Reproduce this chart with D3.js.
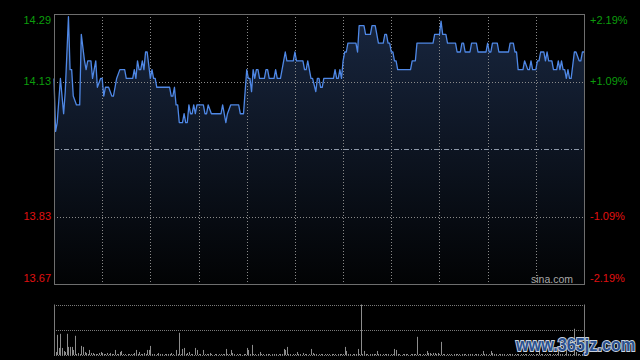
<!DOCTYPE html>
<html>
<head>
<meta charset="utf-8">
<script src="https://cdn.jsdelivr.net/npm/d3@7"></script>
<style>
	html, body { margin: 0; padding: 0; background: #000; }
	svg { display: block; }
	text { font-family: 'Liberation Sans', Arial, sans-serif; }
</style>
</head>
<body>
<div class="chart"></div>
<script>
const WIDTH = 640;
const HEIGHT = 360;
const PREV_CLOSE = 13.98;
const MAX_PCT = 0.0219;
const MINUTES = 330;

// vertices of the minute line: [minute, price]
const priceMinutes = [
	0, 1, 2, 4, 6, 7, 9, 10, 11, 12, 14, 16, 17, 19, 20, 21, 23, 24, 26, 27,
	29, 30, 31, 32, 34, 36, 37, 38, 39, 41, 44, 45, 49, 50, 51, 52, 53, 54, 55, 56,
	57, 58, 60, 61, 62, 63, 64, 72, 73, 74, 75, 76, 77, 78, 80, 81, 82, 83, 84, 85,
	86, 87, 88, 89, 93, 94, 95, 96, 98, 104, 105, 107, 108, 110, 115, 116, 118, 120, 121, 122,
	123, 124, 125, 126, 127, 128, 131, 132, 133, 134, 137, 138, 139, 141, 143, 144, 145, 149, 150, 151,
	155, 156, 157, 158, 160, 161, 163, 164, 165, 166, 167, 168, 174, 175, 176, 177, 178, 179, 180, 181,
	182, 183, 188, 189, 190, 193, 194, 197, 198, 200, 202, 205, 206, 207, 208, 209, 210, 211, 212, 213,
	214, 222, 223, 225, 226, 236, 237, 240, 241, 242, 244, 245, 250, 251, 253, 254, 255, 256, 259, 260,
	263, 264, 269, 270, 271, 272, 273, 276, 277, 283, 284, 286, 287, 288, 289, 292, 293, 295, 296, 297,
	298, 300, 301, 302, 303, 305, 306, 307, 308, 310, 311, 313, 314, 315, 316, 317, 318, 319, 320, 321,
	322, 324, 325, 327, 328, 329, 330
];
const priceValues = [
	14.14, 14.02, 14.04, 14.14, 14.06, 14.11, 14.28, 14.16, 14.16, 14.10, 14.08, 14.08, 14.24, 14.18, 14.16, 14.18, 14.18, 14.14, 14.18, 14.12,
	14.14, 14.14, 14.10, 14.12, 14.12, 14.10, 14.10, 14.12, 14.14, 14.16, 14.16, 14.14, 14.14, 14.16, 14.14, 14.18, 14.16, 14.16, 14.18, 14.16,
	14.20, 14.20, 14.14, 14.16, 14.14, 14.14, 14.12, 14.12, 14.10, 14.10, 14.12, 14.08, 14.08, 14.04, 14.04, 14.06, 14.04, 14.04, 14.08, 14.06,
	14.06, 14.08, 14.06, 14.08, 14.08, 14.06, 14.06, 14.08, 14.06, 14.06, 14.08, 14.04, 14.06, 14.08, 14.08, 14.06, 14.06, 14.16, 14.14, 14.14,
	14.11, 14.16, 14.14, 14.16, 14.16, 14.14, 14.14, 14.16, 14.16, 14.14, 14.14, 14.16, 14.14, 14.14, 14.18, 14.20, 14.18, 14.18, 14.20, 14.18,
	14.18, 14.16, 14.16, 14.18, 14.14, 14.14, 14.11, 14.14, 14.14, 14.12, 14.12, 14.14, 14.14, 14.16, 14.14, 14.14, 14.16, 14.14, 14.18, 14.20,
	14.20, 14.22, 14.22, 14.20, 14.26, 14.26, 14.24, 14.24, 14.26, 14.26, 14.22, 14.22, 14.24, 14.24, 14.22, 14.22, 14.20, 14.20, 14.18, 14.18,
	14.16, 14.16, 14.18, 14.18, 14.22, 14.22, 14.24, 14.24, 14.27, 14.24, 14.24, 14.22, 14.22, 14.20, 14.20, 14.22, 14.22, 14.20, 14.20, 14.22,
	14.22, 14.20, 14.20, 14.22, 14.20, 14.20, 14.22, 14.22, 14.20, 14.20, 14.22, 14.22, 14.20, 14.20, 14.16, 14.16, 14.18, 14.16, 14.16, 14.18,
	14.16, 14.16, 14.18, 14.18, 14.20, 14.20, 14.18, 14.20, 14.18, 14.18, 14.16, 14.16, 14.18, 14.16, 14.18, 14.16, 14.16, 14.14, 14.16, 14.14,
	14.14, 14.20, 14.20, 14.18, 14.18, 14.20, 14.20
];

// volume per minute, 0..330
const volumes = [
	19, 3, 20, 7, 21, 7, 4, 3, 21, 8, 8, 8, 5, 19, 1, 2, 1, 9, 8, 3,
	2, 1, 5, 2, 2, 1, 1, 1, 2, 3, 2, 1, 1, 2, 1, 2, 1, 1, 5, 1,
	1, 3, 4, 1, 1, 0, 1, 1, 1, 1, 2, 5, 1, 3, 1, 1, 2, 1, 5, 5,
	9, 1, 1, 0, 1, 2, 1, 1, 0, 1, 1, 1, 1, 2, 1, 0, 5, 1, 22, 1,
	6, 7, 1, 2, 3, 1, 1, 0, 7, 5, 1, 1, 0, 5, 1, 1, 1, 2, 1, 0,
	1, 1, 0, 1, 1, 1, 1, 6, 1, 1, 5, 2, 1, 0, 1, 1, 1, 0, 1, 1,
	7, 5, 1, 10, 1, 1, 0, 1, 3, 1, 1, 0, 1, 1, 1, 0, 1, 1, 1, 0,
	1, 1, 1, 6, 5, 8, 1, 1, 0, 1, 1, 3, 1, 1, 0, 2, 1, 1, 0, 1,
	6, 2, 1, 1, 0, 1, 1, 1, 0, 1, 1, 1, 0, 1, 1, 1, 0, 1, 1, 1,
	1, 8, 4, 1, 1, 0, 1, 1, 1, 6, 1, 50, 1, 4, 1, 1, 0, 1, 1, 1,
	1, 4, 1, 1, 0, 1, 1, 1, 1, 0, 1, 1, 6, 5, 1, 1, 0, 1, 1, 1,
	1, 0, 1, 1, 1, 1, 18, 1, 1, 0, 1, 1, 4, 2, 2, 1, 2, 2, 1, 2,
	1, 13, 1, 1, 0, 1, 1, 1, 0, 1, 1, 1, 1, 0, 1, 1, 1, 0, 1, 1,
	1, 0, 1, 1, 1, 0, 1, 4, 1, 1, 0, 1, 4, 2, 1, 1, 0, 1, 1, 1,
	1, 0, 1, 1, 1, 1, 0, 1, 1, 1, 0, 1, 1, 1, 1, 0, 1, 1, 1, 0,
	1, 1, 5, 1, 1, 0, 1, 1, 1, 1, 0, 1, 1, 1, 7, 1, 1, 0, 1, 8,
	1, 1, 0, 1, 26, 3, 1, 1, 0, 1, 1
];
const VOL_MAX = 50;

const gridPcts = [MAX_PCT, MAX_PCT / 2, -MAX_PCT / 2, -MAX_PCT];
const priceLabels = ['14.29', '14.13', '13.83', '13.67'];
const pctLabels = ['+2.19%', '+1.09%', '-1.09%', '-2.19%'];
const timeSections = 11;

const MAIN = { left: 54, right: 584, top: 14, bottom: 284 };
const VOL = { top: 304.5, mid: 330, bottom: 355 };

const scale = {
	x: d3.scaleLinear().domain([0, MINUTES]).range([MAIN.left, MAIN.right]),
	y: d3.scaleLinear()
		.domain([PREV_CLOSE * (1 - MAX_PCT), PREV_CLOSE * (1 + MAX_PCT)])
		.range([MAIN.bottom, MAIN.top]),
	vol: d3.scaleLinear().domain([0, VOL_MAX]).range([VOL.bottom, VOL.top])
};

const svg = d3.select('.chart')
	.append('svg')
	.attr('width', WIDTH)
	.attr('height', HEIGHT);

const data = priceMinutes.map((m, i) => ({ m, p: priceValues[i] }));

function drawMain() {
	const defs = svg.append('defs');
	const grad = defs.append('linearGradient')
		.attr('id', 'fill')
		.attr('gradientUnits', 'userSpaceOnUse')
		.attr('x1', 0).attr('x2', 0)
		.attr('y1', MAIN.top).attr('y2', MAIN.bottom);
	grad.append('stop').attr('offset', 0).attr('stop-color', '#18263f');
	grad.append('stop').attr('offset', 1).attr('stop-color', '#020304');

	const area = d3.area()
		.x(d => scale.x(d.m))
		.y0(MAIN.bottom)
		.y1(d => scale.y(d.p));

	const line = d3.line()
		.x(d => scale.x(d.m))
		.y(d => scale.y(d.p));

	svg.append('path')
		.datum(data)
		.attr('d', area)
		.attr('fill', 'url(#fill)');

	// vertical grid
	const step = (MAIN.right - MAIN.left) / timeSections;
	svg.append('g')
		.selectAll('line')
		.data(d3.range(1, timeSections))
		.join('line')
		.attr('x1', d => Math.round(MAIN.left + d * step) + 0.5)
		.attr('x2', d => Math.round(MAIN.left + d * step) + 0.5)
		.attr('y1', MAIN.top)
		.attr('y2', MAIN.bottom)
		.attr('stroke', '#8a8a8a')
		.attr('stroke-dasharray', '1,2');

	// horizontal grid
	svg.append('g')
		.selectAll('line')
		.data(gridPcts.slice(1, 3))
		.join('line')
		.attr('x1', MAIN.left)
		.attr('x2', MAIN.right)
		.attr('y1', d => Math.round(scale.y(PREV_CLOSE * (1 + d))) + 0.5)
		.attr('y2', d => Math.round(scale.y(PREV_CLOSE * (1 + d))) + 0.5)
		.attr('stroke', '#8a8a8a')
		.attr('stroke-dasharray', '1,2');

	svg.append('line')
		.attr('x1', MAIN.left)
		.attr('x2', MAIN.right)
		.attr('y1', Math.round(scale.y(PREV_CLOSE)) + 0.5)
		.attr('y2', Math.round(scale.y(PREV_CLOSE)) + 0.5)
		.attr('stroke', '#8e99aa')
		.attr('stroke-dasharray', '5,2,1,2');

	svg.append('path')
		.datum(data)
		.attr('d', line)
		.attr('fill', 'none')
		.attr('stroke', '#4f88e6')
		.attr('stroke-width', 1.3)
		.attr('stroke-linejoin', 'round');

	svg.append('rect')
		.attr('x', MAIN.left + 0.5)
		.attr('y', MAIN.top + 0.5)
		.attr('width', MAIN.right - MAIN.left)
		.attr('height', MAIN.bottom - MAIN.top)
		.attr('fill', 'none')
		.attr('stroke', '#6e6e6e');

	const labelY = d => Math.min(Math.max(scale.y(PREV_CLOSE * (1 + d)), 20), 278);
	const color = d => (d > 0 ? '#0c9d0c' : '#e01010');

	svg.append('g')
		.selectAll('text')
		.data(gridPcts)
		.join('text')
		.attr('x', 51)
		.attr('y', labelY)
		.attr('dy', '0.36em')
		.attr('text-anchor', 'end')
		.attr('font-size', 11)
		.attr('fill', color)
		.text((d, i) => priceLabels[i]);

	svg.append('g')
		.selectAll('text')
		.data(gridPcts)
		.join('text')
		.attr('x', 590)
		.attr('y', labelY)
		.attr('dy', '0.36em')
		.attr('font-size', 11)
		.attr('fill', color)
		.text((d, i) => pctLabels[i]);

	svg.append('text')
		.attr('x', 573)
		.attr('y', 283)
		.attr('text-anchor', 'end')
		.attr('font-size', 10.5)
		.attr('fill', '#a8a8a8')
		.text('sina.com');
}

function drawVolume() {
	svg.append('g')
		.selectAll('line')
		.data([VOL.top, VOL.mid, VOL.bottom])
		.join('line')
		.attr('x1', MAIN.left)
		.attr('x2', MAIN.right)
		.attr('y1', d => Math.round(d) + 0.5)
		.attr('y2', d => Math.round(d) + 0.5)
		.attr('stroke', '#7a7a7a')
		.attr('stroke-dasharray', '1,1');

	svg.append('g')
		.selectAll('line')
		.data(volumes)
		.join('line')
		.attr('x1', (d, i) => Math.round(scale.x(i)) + 0.5)
		.attr('x2', (d, i) => Math.round(scale.x(i)) + 0.5)
		.attr('y1', scale.vol(0))
		.attr('y2', d => scale.vol(d))
		.attr('stroke', '#8c8c8c');

	svg.append('g')
		.selectAll('line')
		.data([MAIN.left, MAIN.right])
		.join('line')
		.attr('x1', d => d + 0.5)
		.attr('x2', d => d + 0.5)
		.attr('y1', VOL.top)
		.attr('y2', VOL.bottom)
		.attr('stroke', '#7a7a7a');

	// watermark
	svg.append('text')
		.attr('transform', 'translate(516, 351) scale(1.23, 1.35)')
		.attr('font-family', "'DejaVu Sans', sans-serif")
		.attr('font-weight', 'bold')
		.attr('font-size', 13.2)
		.attr('fill', '#2a5190')
		.attr('stroke', '#c9d1dc')
		.attr('stroke-width', 1.4)
		.attr('paint-order', 'stroke')
		.text('www.365jz.com');
}

drawMain();
drawVolume();
</script>
</body>
</html>
